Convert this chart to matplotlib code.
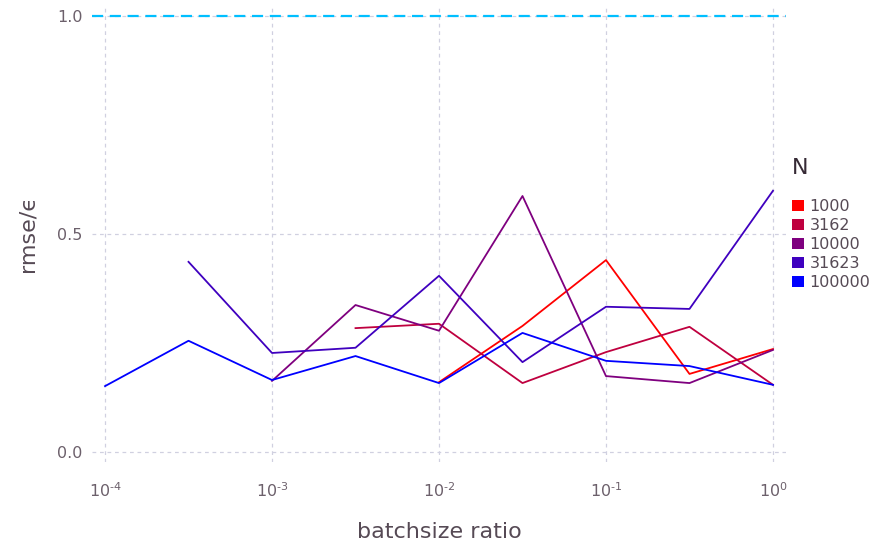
import numpy as np
import matplotlib
matplotlib.use("Agg")
import matplotlib.pyplot as plt
from matplotlib.patches import Patch

ratios = [1e-4, 10**-3.5, 1e-3, 10**-2.5, 1e-2, 10**-1.5, 1e-1, 10**-0.5, 1e0]
N_labels = ["1000", "3162", "10000", "31623", "100000"]
colors = ["#FF0000", "#BF003F", "#7F007F", "#3F00BF", "#0000FF"]
nan = np.nan
rmse_1000 = [nan, nan, nan, nan, 0.160, 0.289, 0.440, 0.179, 0.236]
rmse_3162 = [nan, nan, nan, 0.284, 0.294, 0.158, 0.229, 0.287, 0.154]
rmse_10000 = [nan, nan, 0.163, 0.337, 0.278, 0.587, 0.174, 0.158, 0.234]
rmse_31623 = [nan, 0.436, 0.227, 0.239, 0.404, 0.206, 0.333, 0.328, 0.599]
rmse_100000 = [0.151, 0.255, 0.165, 0.220, 0.158, 0.273, 0.209, 0.197, 0.154]
series = [rmse_1000, rmse_3162, rmse_10000, rmse_31623, rmse_100000]
ref_level = 1.0

fig = plt.figure(figsize=(8.76, 5.44), dpi=100)
ax = fig.add_axes([92/876, 1-462/544, (786-92)/876, (462-5)/544])

for vals, c in zip(series, colors):
    ax.plot(ratios, vals, color=c, lw=1.3)
ax.axhline(ref_level, color="#00BFFF", lw=1.6, ls=(0, (5, 3)))

ax.set_xscale("log")
ax.set_xlim(10**-4.078, 10**0.078)
ax.set_ylim(-0.023, 1.025)
ax.set_xticks([1e-4, 1e-3, 1e-2, 1e-1, 1e0])
ax.set_xticklabels([r"$\mathregular{10^{\text{-}4}}$", r"$\mathregular{10^{\text{-}3}}$",
                    r"$\mathregular{10^{\text{-}2}}$", r"$\mathregular{10^{\text{-}1}}$",
                    r"$\mathregular{10^{0}}$"])
ax.minorticks_off()
ax.set_yticks([0.0, 0.5, 1.0])
ax.set_yticklabels(["0.0", "0.5", "1.0"])
ax.tick_params(length=0, labelsize=11.5, colors="#6C606B", pad=7)
ax.tick_params(axis="x", pad=14)
for s in ax.spines.values():
    s.set_visible(False)
ax.grid(True, color="#D0D0E0", ls=(0, (3, 3)), lw=0.9)
ax.set_axisbelow(True)

ax.set_xlabel("batchsize ratio", fontsize=16, color="#564A55", labelpad=16)
ax.set_ylabel("rmse/ϵ", fontsize=16, color="#564A55", labelpad=14)

handles = [Patch(facecolor=c, edgecolor="none") for c in colors]
leg = fig.legend(handles, N_labels, loc="upper left",
                 bbox_to_anchor=(792/876, 1-199/544), frameon=False,
                 fontsize=11.5, handlelength=0.75, handleheight=0.75,
                 handletextpad=0.35, labelspacing=0.25, borderaxespad=0, borderpad=0)
for t in leg.get_texts():
    t.set_color("#564A55")
fig.text(792/876, 1-168/544, "N", fontsize=16, color="#362A35", ha="left", va="center")

fig.savefig("out.png", dpi=100)
